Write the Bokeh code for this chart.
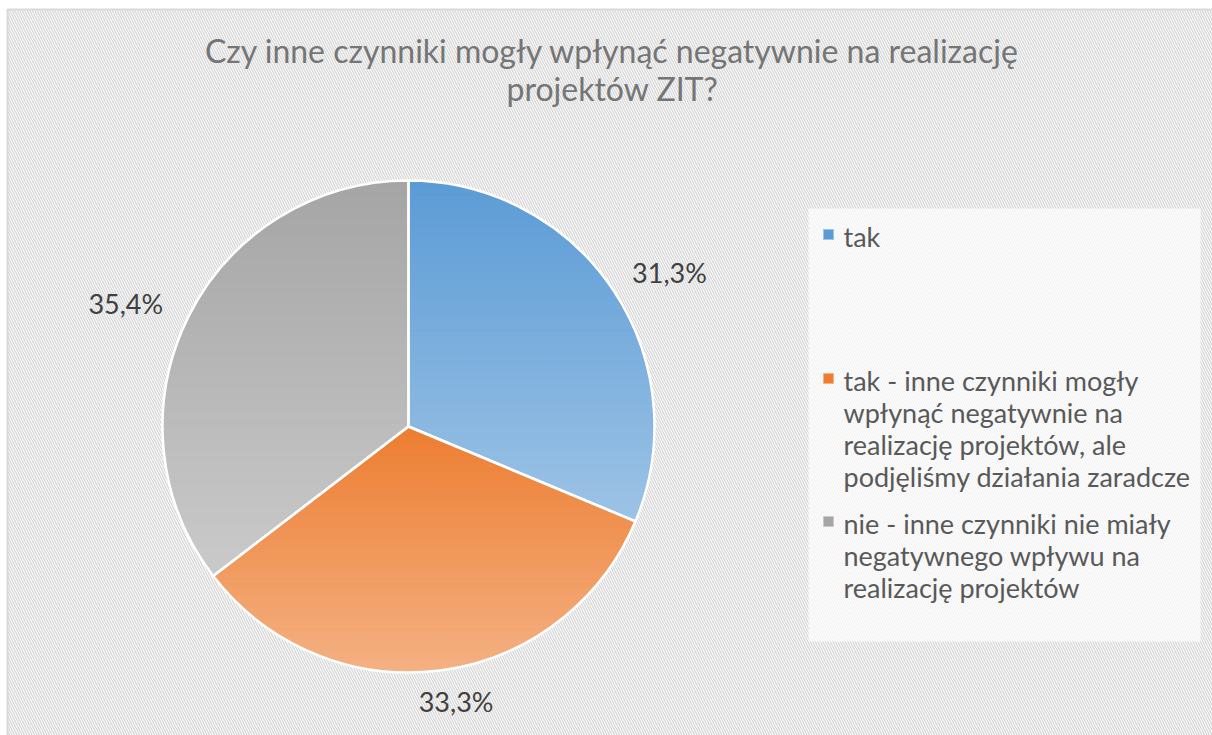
import numpy as np
from bokeh.plotting import figure
from bokeh.models import Range1d
from bokeh.core.properties import value
from bokeh.embed import file_html
from bokeh.resources import INLINE

# ---------------- data ----------------
title_lines = ["Czy inne czynniki mogły wpłynąć negatywnie na realizację", "projektów ZIT?"]
categories = [
    "tak",
    "tak - inne czynniki mogły wpłynąć negatywnie na realizację projektów, ale podjęliśmy działania zaradcze",
    "nie - inne czynniki nie miały negatywnego wpływu na realizację projektów",
]
legend_lines = [
    ["tak"],
    ["tak - inne czynniki mogły", "wpłynąć negatywnie na", "realizację projektów, ale", "podjęliśmy działania zaradcze"],
    ["nie - inne czynniki nie miały", "negatywnego wpływu na", "realizację projektów"],
]
shares = [31.3, 33.3, 35.4]
pct_labels = ["31,3%", "33,3%", "35,4%"]
top_colors = ["#5b9bd5", "#ed7d31", "#a5a5a5"]
bottom_colors = ["#9dc3e6", "#f4b183", "#cacaca"]

# ---------------- layout ----------------
W, H = 1212, 735
def Y(ref_y):
    return H - ref_y

CX, CY, R = 408, Y(426), 246
LABEL_D = 277
FONT = value("Lato")

p = figure(width=W, height=H, output_backend="svg", toolbar_location=None,
           x_range=Range1d(0, W), y_range=Range1d(0, H), min_border=0)
p.xaxis.visible = False
p.yaxis.visible = False
p.xgrid.grid_line_color = None
p.ygrid.grid_line_color = None
p.outline_line_color = None
p.background_fill_color = "white"
p.border_fill_color = "white"

# hatched chart area background with frame
p.quad(left=7, right=1240, top=Y(9), bottom=-30, fill_color="white",
       hatch_pattern="\\", hatch_color="#d6d6d6", hatch_scale=5, hatch_weight=1.3,
       line_color="#d9d9d9", line_width=2)

def hex2rgb(h):
    h = h.lstrip("#")
    return np.array([int(h[i:i + 2], 16) for i in (0, 2, 4)], dtype=float)

def rgb2hex(c):
    c = np.clip(np.round(c), 0, 255).astype(int)
    return "#%02x%02x%02x" % tuple(c)

def clip_poly(pts, yv, keep_above):
    out = []
    n = len(pts)
    def inside(pt):
        return pt[1] >= yv if keep_above else pt[1] <= yv
    for i in range(n):
        cur, prev = pts[i], pts[i - 1]
        ci, pi_ = inside(cur), inside(prev)
        if ci:
            if not pi_:
                t = (yv - prev[1]) / (cur[1] - prev[1])
                out.append((prev[0] + t * (cur[0] - prev[0]), yv))
            out.append(cur)
        elif pi_:
            t = (yv - prev[1]) / (cur[1] - prev[1])
            out.append((prev[0] + t * (cur[0] - prev[0]), yv))
    return out

total = sum(shares)
cum = np.concatenate([[0], np.cumsum(shares)]) / total
xs_all, ys_all, cols_all = [], [], []
NB = 70
for i in range(len(shares)):
    a0 = np.pi / 2 - 2 * np.pi * cum[i]
    a1 = np.pi / 2 - 2 * np.pi * cum[i + 1]
    angs = np.linspace(a0, a1, 240)
    poly = [(CX, CY)] + [(CX + R * np.cos(a), CY + R * np.sin(a)) for a in angs]
    ymax = max(pt[1] for pt in poly)
    ymin = min(pt[1] for pt in poly)
    h = (ymax - ymin) / NB
    ct, cb = hex2rgb(top_colors[i]), hex2rgb(bottom_colors[i])
    for k in range(NB):
        hi = ymax - k * h
        lo = hi - h
        band = clip_poly(clip_poly(poly, hi, False), lo, True)
        if len(band) < 3:
            continue
        t = (k + 0.5) / NB
        xs_all.append([pt[0] for pt in band])
        ys_all.append([pt[1] for pt in band])
        cols_all.append(rgb2hex(ct + (cb - ct) * t))

p.patches(xs_all, ys_all, fill_color=cols_all, line_color=cols_all, line_width=1)

starts = [np.pi / 2 - 2 * np.pi * cum[i + 1] for i in range(len(shares))]
ends = [np.pi / 2 - 2 * np.pi * cum[i] for i in range(len(shares))]
p.wedge(x=[CX] * 3, y=[CY] * 3, radius=R, start_angle=starts, end_angle=ends,
        direction="anticlock", fill_color=None, line_color="white", line_width=2.5)

# data labels
for i in range(len(shares)):
    th = 2 * np.pi * (cum[i] + cum[i + 1]) / 2
    s, c = np.sin(th), np.cos(th)
    lx, ly = CX + LABEL_D * s, CY + LABEL_D * c
    align = "left" if s > 0.3 else ("right" if s < -0.3 else "center")
    if align == "center":
        lx += 12
    elif align == "left":
        lx -= 7
    else:
        lx += 3
    p.text(x=[lx], y=[ly], text=[pct_labels[i]], text_font=FONT, text_font_size="27px",
           text_color="#404040", text_align=align, text_baseline="middle")

# title
for j, line in enumerate(title_lines):
    p.text(x=[612], y=[Y(50 + 38 * j)], text=[line], text_font=FONT, text_font_size="32px",
           text_color="#757575", text_align="center", text_baseline="middle")

# legend
p.quad(left=808, right=1200, top=Y(208), bottom=Y(641), fill_color="white",
       fill_alpha=0.7, line_color=None)
first_y = [236, 380, 523]
for i, lines in enumerate(legend_lines):
    p.scatter(x=[828], y=[Y(first_y[i] - 2)], marker="square", size=10,
              fill_color=top_colors[i], line_color=bottom_colors[i], line_width=1)
    for j, line in enumerate(lines):
        p.text(x=[843], y=[Y(first_y[i] + 32 * j)], text=[line], text_font=FONT,
               text_font_size="27px", text_color="#595959", text_align="left",
               text_baseline="middle")

open("out.html", "w").write(file_html(p, INLINE))
